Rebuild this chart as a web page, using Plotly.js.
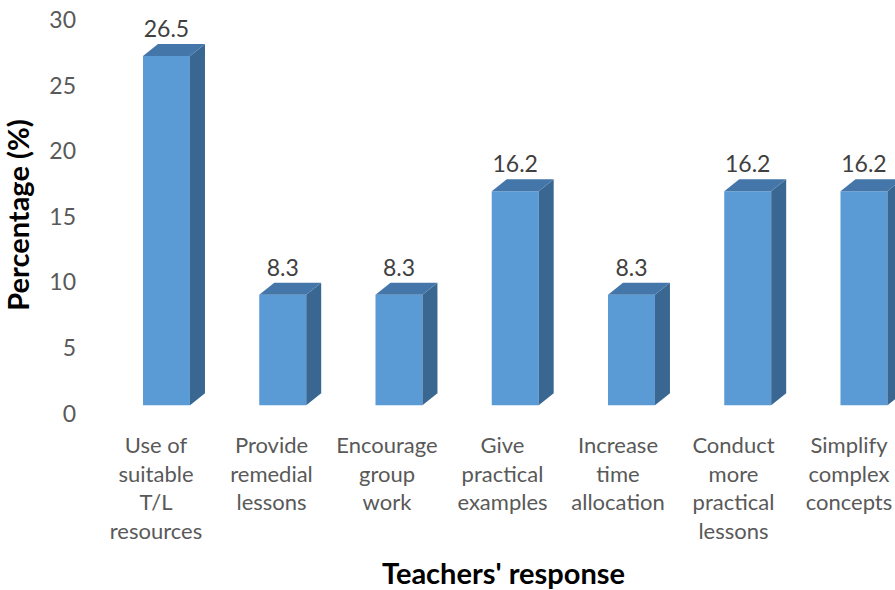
<!DOCTYPE html>
<html><head><meta charset="utf-8">
<script src="https://cdn.plot.ly/plotly-3.0.1.min.js"></script>
<style>html,body{margin:0;padding:0;background:#fff}</style>
</head><body><div id="chart" style="width:895px;height:590px"></div>
<script>
const categories = ["Use of suitable T/L resources", "Provide remedial lessons", "Encourage group work", "Give practical examples", "Increase time allocation", "Conduct more practical lessons", "Simplify complex concepts"];
const tickLabels = ["Use of<br>suitable<br>T/L<br>resources", "Provide<br>remedial<br>lessons", "Encourage<br>group<br>work", "Give<br>practical<br>examples", "Increase<br>time<br>allocation", "Conduct<br>more<br>practical<br>lessons", "Simplify<br>complex<br>concepts"];
const values = [26.5, 8.3, 8.3, 16.2, 8.3, 16.2, 16.2];
const yTicks = [0, 5, 10, 15, 20, 25, 30];

// 3D-look geometry (in axis units)
const FRONT_W = 0.404, DX = 0.129, DY = 0.916, BASE = 0.62, TOP_EXTRA = 0.75, LABEL_GAP = 2.65;
const LABEL_SHIFT = 0.09, LABEL_DRIFT = 0.0065;
const FONT = "Lato, 'Open Sans', sans-serif";
const C_FRONT = "#5B9BD5", C_TOP = "#4576AA", C_SIDE = "#396792";

const xs = categories.map((_, i) => i);
const tops = values.map(v => v + TOP_EXTRA);
const traces = [];

xs.forEach((x, i) => {
  const xl = x - FRONT_W / 2, xr = x + FRONT_W / 2, t = tops[i];
  traces.push({type: "scatter", mode: "lines", x: [xr, xr + DX, xr + DX, xr, xr], y: [BASE, BASE + DY, t + DY, t, BASE],
    fill: "toself", fillcolor: C_SIDE, line: {width: 0, color: C_SIDE}, hoverinfo: "skip", showlegend: false});
  traces.push({type: "scatter", mode: "lines", x: [xl, xl + DX, xr + DX, xr, xl], y: [t, t + DY, t + DY, t, t],
    fill: "toself", fillcolor: C_TOP, line: {width: 0, color: C_TOP}, hoverinfo: "skip", showlegend: false});
});

traces.unshift({type: "bar", x: xs, y: tops.map(t => t - BASE), base: BASE, width: FRONT_W,
  marker: {color: C_FRONT, line: {width: 0}}, name: "Percentage", customdata: values,
  hovertemplate: "%{customdata}<extra></extra>", showlegend: false});

traces.push({type: "scatter", mode: "text", x: xs, y: values.map(v => v + LABEL_GAP), text: values.map(v => v.toFixed(1)),
  textposition: "middle center", textfont: {family: FONT, size: 23, color: "#404040"}, cliponaxis: false,
  hoverinfo: "skip", showlegend: false});

const layout = {
  width: 895, height: 590,
  margin: {l: 85, r: 0, t: 10, b: 170.45},
  paper_bgcolor: "#fff", plot_bgcolor: "#fff",
  showlegend: false,
  xaxis: {range: [-0.701, 6.267], tickvals: xs.map(x => x - LABEL_SHIFT - LABEL_DRIFT * x), ticktext: tickLabels,
    showgrid: false, zeroline: false, showline: false, ticks: "", ticklabeloverflow: "allow", ticklabelstandoff: 10,
    tickfont: {family: FONT, size: 22, color: "#595959"}, fixedrange: true},
  yaxis: {range: [-0.5, 30.763], tickvals: yTicks, showgrid: false, zeroline: false, showline: false, ticks: "",
    ticklabelstandoff: 8,
    tickfont: {family: FONT, size: 23, color: "#595959"}, fixedrange: true,
    title: {text: "Percentage (%)", font: {family: FONT, size: 29, color: "#000", weight: 700}, standoff: 12}},
  annotations: [{text: "Teachers' response", xref: "paper", yref: "paper", x: 0.517, y: -0.3720,
    xanchor: "center", yanchor: "middle", showarrow: false,
    font: {family: FONT, size: 29, color: "#000", weight: 700}}]
};

Plotly.newPlot("chart", traces, layout, {displayModeBar: false, staticPlot: true});
</script></body></html>
